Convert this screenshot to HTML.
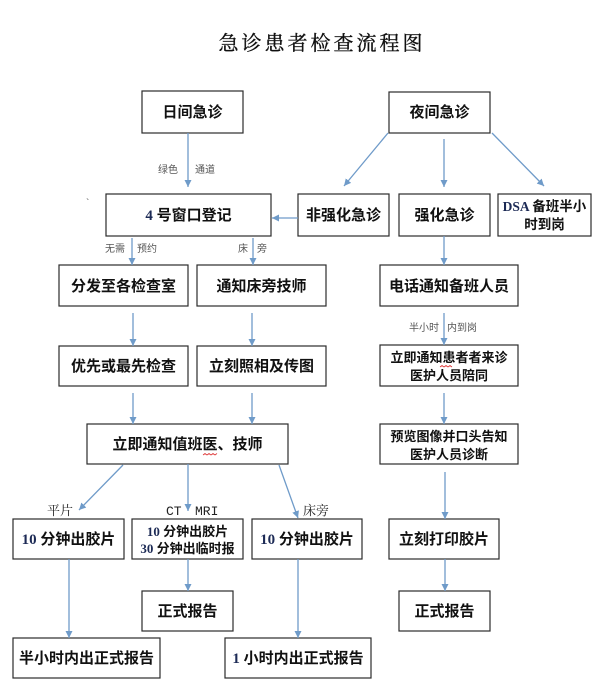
<!DOCTYPE html>
<html><head><meta charset="utf-8">
<style>
html,body{margin:0;padding:0;background:#fff;}
svg{display:block;}
.b{fill:#fff;stroke:#2b2b2b;stroke-width:1.2;}
.t{font-family:"Liberation Serif","Noto Sans CJK SC",sans-serif;font-weight:700;fill:#111;text-anchor:middle;}
.a{stroke:#6f9bc9;stroke-width:1.3;fill:none;}
.s{font-family:"Liberation Sans","Noto Sans CJK SC",sans-serif;font-size:10px;fill:#555;}
.m{font-family:"Liberation Mono","Noto Serif CJK SC",serif;font-size:13px;fill:#222;}
.n{fill:#1c2a55;}
</style></head>
<body>
<svg width="600" height="693" viewBox="0 0 600 693" xmlns="http://www.w3.org/2000/svg">
<defs>
<marker id="ah" markerWidth="8" markerHeight="8" refX="7" refY="4" orient="auto" markerUnits="userSpaceOnUse">
<path d="M0,0.5 L7,4 L0,7.5 Z" fill="#6f9bc9"/>
</marker>
</defs>

<text x="322" y="50" text-anchor="middle" style="font-family:'Noto Serif CJK SC',serif;font-size:20px;letter-spacing:3px;fill:#111;stroke:#111;stroke-width:0.35;">急诊患者检查流程图</text>

<!-- boxes -->
<rect class="b" x="142" y="91" width="101" height="42"/>
<rect class="b" x="389" y="92" width="101" height="41"/>
<rect class="b" x="106" y="194" width="165" height="42"/>
<rect class="b" x="298" y="194" width="91" height="42"/>
<rect class="b" x="399" y="194" width="91" height="42"/>
<rect class="b" x="498" y="194" width="93" height="42"/>
<rect class="b" x="59" y="265" width="129" height="41"/>
<rect class="b" x="197" y="265" width="129" height="41"/>
<rect class="b" x="380" y="265" width="138" height="41"/>
<rect class="b" x="59" y="346" width="129" height="40"/>
<rect class="b" x="197" y="346" width="129" height="40"/>
<rect class="b" x="380" y="345" width="138" height="41"/>
<rect class="b" x="87" y="424" width="201" height="40"/>
<rect class="b" x="380" y="424" width="138" height="40"/>
<rect class="b" x="13" y="519" width="111" height="40"/>
<rect class="b" x="132" y="519" width="111" height="40"/>
<rect class="b" x="252" y="519" width="110" height="40"/>
<rect class="b" x="389" y="519" width="110" height="40"/>
<rect class="b" x="142" y="591" width="91" height="40"/>
<rect class="b" x="399" y="591" width="91" height="40"/>
<rect class="b" x="13" y="638" width="147" height="40"/>
<rect class="b" x="225" y="638" width="146" height="40"/>

<!-- box texts -->
<text class="t" x="192.5" y="117" font-size="15">日间急诊</text>
<text class="t" x="439.5" y="117" font-size="15">夜间急诊</text>
<text class="t" x="188.5" y="220" font-size="15"><tspan class="n">4</tspan> 号窗口登记</text>
<text class="t" x="343.5" y="220" font-size="15">非强化急诊</text>
<text class="t" x="444.5" y="220" font-size="15">强化急诊</text>
<text class="t" x="544.5" y="211" font-size="13.5"><tspan class="n">DSA</tspan> 备班半小</text>
<text class="t" x="544.5" y="229" font-size="13.5">时到岗</text>
<text class="t" x="123.5" y="291" font-size="15">分发至各检查室</text>
<text class="t" x="261.5" y="291" font-size="15">通知床旁技师</text>
<text class="t" x="449" y="291" font-size="15">电话通知备班人员</text>
<text class="t" x="123.5" y="371" font-size="15">优先或最先检查</text>
<text class="t" x="261.5" y="371" font-size="15">立刻照相及传图</text>
<text class="t" x="449" y="362" font-size="13">立即通知患者者来诊</text>
<text class="t" x="449" y="380" font-size="13">医护人员陪同</text>
<text class="t" x="187.5" y="449" font-size="15">立即通知值班医、技师</text>
<text class="t" x="449" y="441" font-size="13">预览图像并口头告知</text>
<text class="t" x="449" y="459" font-size="13">医护人员诊断</text>
<text class="t" x="68.5" y="544" font-size="15"><tspan class="n">10</tspan> 分钟出胶片</text>
<text class="t" x="187.5" y="536" font-size="13"><tspan class="n">10</tspan> 分钟出胶片</text>
<text class="t" x="187.5" y="553" font-size="13"><tspan class="n">30</tspan> 分钟出临时报</text>
<text class="t" x="307" y="544" font-size="15"><tspan class="n">10</tspan> 分钟出胶片</text>
<text class="t" x="444" y="544" font-size="15">立刻打印胶片</text>
<text class="t" x="187.5" y="616" font-size="15">正式报告</text>
<text class="t" x="444.5" y="616" font-size="15">正式报告</text>
<text class="t" x="86.5" y="663" font-size="15">半小时内出正式报告</text>
<text class="t" x="298" y="663" font-size="15"><tspan class="n">1</tspan> 小时内出正式报告</text>

<!-- spell-check squiggles -->
<path d="M203,455 l2,-1.5 l2,1.5 l2,-1.5 l2,1.5 l2,-1.5 l2,1.5 l2,-1.5" stroke="#d33" stroke-width="0.8" fill="none"/>
<path d="M440,367 l2,-1.5 l2,1.5 l2,-1.5 l2,1.5 l2,-1.5 l2,1.5" stroke="#d33" stroke-width="0.8" fill="none"/>

<!-- arrows -->
<line class="a" x1="188" y1="133" x2="188" y2="187" marker-end="url(#ah)"/>
<line class="a" x1="298" y1="218" x2="272" y2="218" marker-end="url(#ah)"/>
<line class="a" x1="388" y1="133" x2="344" y2="186" marker-end="url(#ah)"/>
<line class="a" x1="444" y1="139" x2="444" y2="187" marker-end="url(#ah)"/>
<line class="a" x1="492" y1="133" x2="544" y2="186" marker-end="url(#ah)"/>
<line class="a" x1="444" y1="236" x2="444" y2="265" marker-end="url(#ah)"/>
<line class="a" x1="132" y1="238" x2="132" y2="265" marker-end="url(#ah)"/>
<line class="a" x1="253" y1="238" x2="253" y2="265" marker-end="url(#ah)"/>
<line class="a" x1="133" y1="313" x2="133" y2="346" marker-end="url(#ah)"/>
<line class="a" x1="252" y1="313" x2="252" y2="346" marker-end="url(#ah)"/>
<line class="a" x1="133" y1="393" x2="133" y2="424" marker-end="url(#ah)"/>
<line class="a" x1="252" y1="393" x2="252" y2="424" marker-end="url(#ah)"/>
<line class="a" x1="444" y1="313" x2="444" y2="345" marker-end="url(#ah)"/>
<line class="a" x1="444" y1="393" x2="444" y2="424" marker-end="url(#ah)"/>
<line class="a" x1="123" y1="465" x2="79" y2="510" marker-end="url(#ah)"/>
<line class="a" x1="188" y1="464" x2="188" y2="511" marker-end="url(#ah)"/>
<line class="a" x1="279" y1="465" x2="298" y2="518" marker-end="url(#ah)"/>
<line class="a" x1="445" y1="472" x2="445" y2="519" marker-end="url(#ah)"/>
<line class="a" x1="69" y1="559" x2="69" y2="638" marker-end="url(#ah)"/>
<line class="a" x1="188" y1="559" x2="188" y2="591" marker-end="url(#ah)"/>
<line class="a" x1="298" y1="559" x2="298" y2="638" marker-end="url(#ah)"/>
<line class="a" x1="445" y1="559" x2="445" y2="591" marker-end="url(#ah)"/>

<!-- small labels -->
<text class="s" x="158" y="173">绿色</text>
<text class="s" x="195" y="173">通道</text>
<text class="s" x="105" y="252">无需</text>
<text class="s" x="137" y="252">预约</text>
<text class="s" x="238" y="252">床</text>
<text class="s" x="257" y="252">旁</text>
<text class="s" x="409" y="331">半小时</text>
<text class="s" x="447" y="331">内到岗</text>
<text class="s" x="86" y="206">`</text>

<text class="m" x="47" y="515" style="font-family:'Noto Serif CJK SC',serif;">平片</text>
<text class="m" x="166" y="515">CT</text>
<text class="m" x="195" y="515">MRI</text>
<text class="m" x="303" y="515" style="font-family:'Noto Serif CJK SC',serif;">床旁</text>
</svg>
</body></html>
